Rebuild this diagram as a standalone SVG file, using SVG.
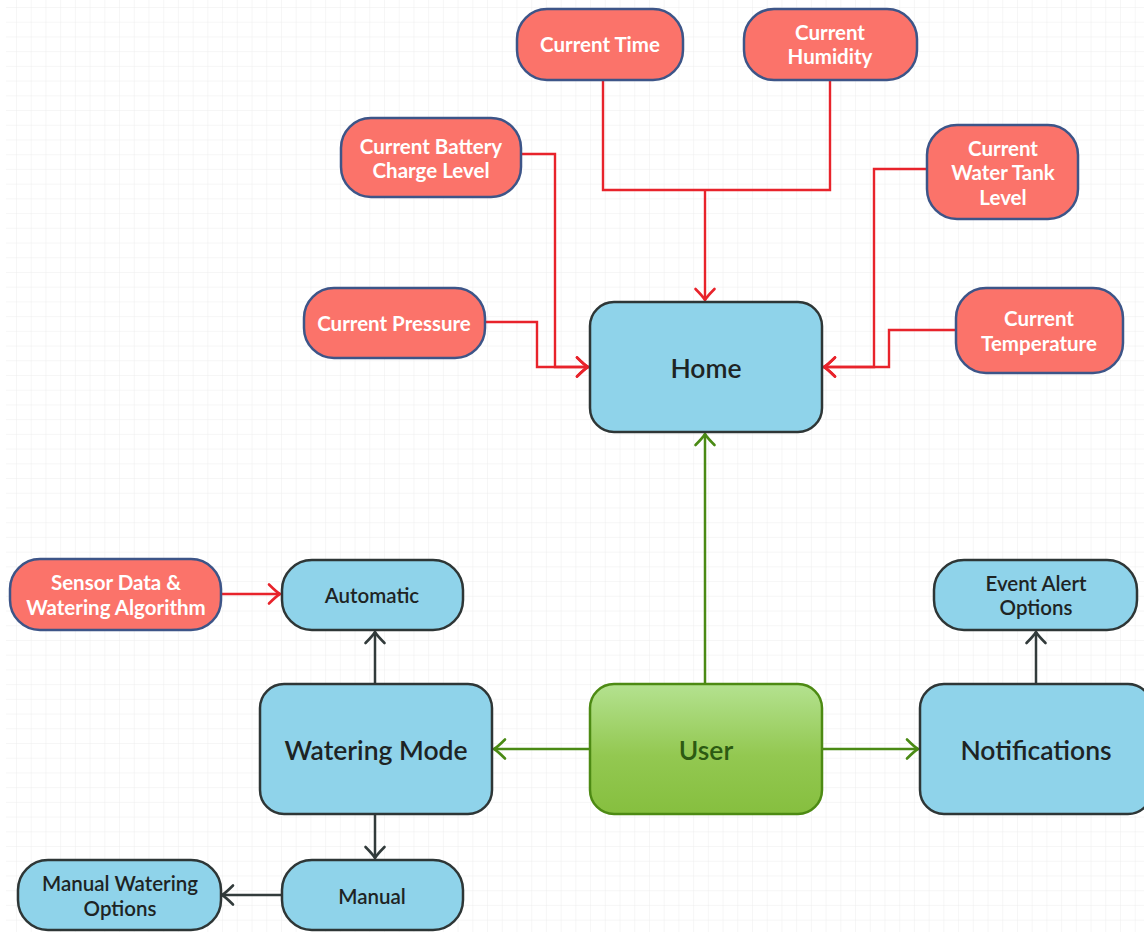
<svg xmlns="http://www.w3.org/2000/svg" width="1144" height="932" viewBox="0 0 1144 932">
<style>
text{font-family:Lato,"Open Sans","Liberation Sans",sans-serif;text-anchor:middle;dominant-baseline:central}
.red rect{fill:#fb736a;stroke:#3d5588;stroke-width:2.5}
.red text{fill:#fff;font-weight:700;font-size:20.5px}
.blue rect{fill:#8fd3ea;stroke:#2e3636;stroke-width:2.5}
.blue text{fill:#1e2424;font-weight:600;font-size:20.5px}
.big text{font-size:26.5px}
.cr{fill:none;stroke:#e8232b;stroke-width:2.4}
.cg{fill:none;stroke:#4a8a14;stroke-width:2.5}
.ck{fill:none;stroke:#323b3b;stroke-width:2.5}
</style>
<defs>
<pattern id="grid" patternUnits="userSpaceOnUse" x="16" y="7" width="14.72" height="14.72">
<path d="M0,0 H14.72 M0,0 V14.72" fill="none" stroke="#ededed" stroke-width="1"/>
</pattern>
<linearGradient id="ug" x1="0" y1="0" x2="0" y2="1">
<stop offset="0" stop-color="#b4e290"/>
<stop offset="0.55" stop-color="#93c851"/>
<stop offset="1" stop-color="#86bf3f"/>
</linearGradient>
<marker id="ar" markerUnits="userSpaceOnUse" viewBox="-14 -12 16 24" refX="0" refY="0" markerWidth="16" markerHeight="24" orient="auto" overflow="visible">
<path d="M-11,-9.5 Q-3.5,-2 0,0 Q-3.5,2 -11,9.5" fill="none" stroke="#e8232b" stroke-width="2.6" stroke-linecap="round"/>
</marker>
<marker id="ag" markerUnits="userSpaceOnUse" viewBox="-14 -12 16 24" refX="0" refY="0" markerWidth="16" markerHeight="24" orient="auto" overflow="visible">
<path d="M-11,-9.5 Q-3.5,-2 0,0 Q-3.5,2 -11,9.5" fill="none" stroke="#4a8a14" stroke-width="2.6" stroke-linecap="round"/>
</marker>
<marker id="ak" markerUnits="userSpaceOnUse" viewBox="-14 -12 16 24" refX="0" refY="0" markerWidth="16" markerHeight="24" orient="auto" overflow="visible">
<path d="M-11,-9.5 Q-3.5,-2 0,0 Q-3.5,2 -11,9.5" fill="none" stroke="#323b3b" stroke-width="2.6" stroke-linecap="round"/>
</marker>
</defs>
<rect width="1144" height="932" fill="#fff"/>
<rect x="6" y="0" width="1138" height="932" fill="url(#grid)"/>

<g id="connectors">
<path class="cr" d="M603,80 V190 H830 V80"/>
<path class="cr" d="M705,190 V300" marker-end="url(#ar)"/>
<path class="cr" d="M521,154 H555 V367 H588" marker-end="url(#ar)"/>
<path class="cr" d="M485,322 H537 V367 H588" marker-end="url(#ar)"/>
<path class="cr" d="M927,169 H874 V367 H824" marker-end="url(#ar)"/>
<path class="cr" d="M955,330 H889 V367 H824" marker-end="url(#ar)"/>
<path class="cr" d="M221,594 H280" marker-end="url(#ar)"/>
<path class="cg" d="M705,684 V434" marker-end="url(#ag)"/>
<path class="cg" d="M589,749 H494" marker-end="url(#ag)"/>
<path class="cg" d="M822,749 H918" marker-end="url(#ag)"/>
<path class="ck" d="M375,684 V632" marker-end="url(#ak)"/>
<path class="ck" d="M375,814 V858" marker-end="url(#ak)"/>
<path class="ck" d="M281,895 H222" marker-end="url(#ak)"/>
<path class="ck" d="M1036,684 V632" marker-end="url(#ak)"/>
</g>

<g id="current-time" class="red"><rect x="517" y="9" width="166" height="71" rx="30"/><text x="600" y="44">Current Time</text></g>
<g id="current-humidity" class="red"><rect x="744" y="9" width="173" height="71" rx="30"/><text x="830" y="32">Current</text><text x="830" y="56">Humidity</text></g>
<g id="current-battery" class="red"><rect x="341" y="118" width="180" height="79" rx="30"/><text x="431" y="146">Current Battery</text><text x="431" y="170">Charge Level</text></g>
<g id="current-water-tank" class="red"><rect x="927" y="125" width="151" height="94" rx="30"/><text x="1003" y="148">Current</text><text x="1003" y="172">Water Tank</text><text x="1003" y="197">Level</text></g>
<g id="current-pressure" class="red"><rect x="304" y="288" width="181" height="70" rx="30"/><text x="394" y="323">Current Pressure</text></g>
<g id="current-temperature" class="red"><rect x="956" y="288" width="167" height="85" rx="30"/><text x="1039" y="318">Current</text><text x="1039" y="343">Temperature</text></g>
<g id="sensor-data" class="red"><rect x="10" y="559" width="211" height="71" rx="30"/><text x="116" y="582">Sensor Data &amp;</text><text x="116" y="607">Watering Algorithm</text></g>

<g id="home" class="blue big"><rect x="590" y="302" width="232" height="130" rx="24"/><text x="706" y="368">Home</text></g>
<g id="automatic" class="blue"><rect x="282" y="560" width="181" height="70" rx="30"/><text x="372" y="595">Automatic</text></g>
<g id="watering-mode" class="blue big"><rect x="260" y="684" width="232" height="130" rx="24"/><text x="376" y="750">Watering Mode</text></g>
<g id="user" class="big"><rect x="590" y="684" width="232" height="130" rx="24" fill="url(#ug)" stroke="#4d8a13" stroke-width="2.5"/><text x="706" y="750" fill="#2c5a12" font-weight="600">User</text></g>
<g id="notifications" class="blue big"><rect x="920" y="684" width="232" height="130" rx="24"/><text x="1036" y="750">Notifications</text></g>
<g id="event-alert-options" class="blue"><rect x="934" y="560" width="203" height="70" rx="30"/><text x="1036" y="583">Event Alert</text><text x="1036" y="607">Options</text></g>
<g id="manual" class="blue"><rect x="282" y="860" width="181" height="70" rx="30"/><text x="372" y="896">Manual</text></g>
<g id="manual-watering-options" class="blue"><rect x="18" y="860" width="203" height="70" rx="30"/><text x="120" y="883">Manual Watering</text><text x="120" y="908">Options</text></g>
</svg>
